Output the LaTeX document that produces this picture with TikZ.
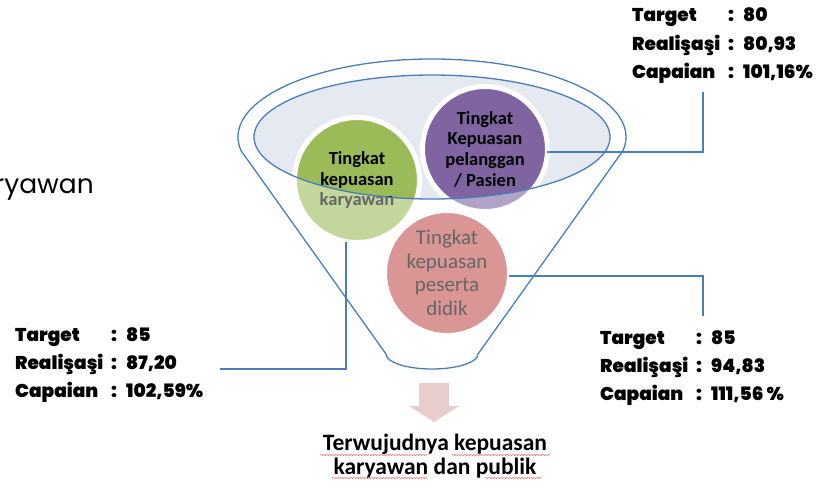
\documentclass[tikz,border=0pt]{standalone}
\usepackage{fontspec}
\setmainfont{Carlito}
\newfontfamily\statfont{Poppins Black}
\newfontfamily\geofont{Poppins}
\usetikzlibrary{decorations.pathmorphing}

\definecolor{funnelblue}{HTML}{4A7EBB}
\definecolor{bowlfill}{HTML}{E4E9F2}
\definecolor{accgreen}{HTML}{9BBB59}
\definecolor{accpurple}{HTML}{8064A2}
\definecolor{accred}{HTML}{C0504D}
\definecolor{arrowpink}{HTML}{E8CDCD}

% one row of a result block: label, colon, value
\newcommand\statrow[2]{\makebox[96pt][l]{#1}\makebox[15pt][l]{:}#2}

\begin{document}
\begin{tikzpicture}[x=1pt,y=-1pt,
  ball/.style={circle, minimum size=125pt, inner sep=0pt, outer sep=0pt,
               draw=white, line width=5pt, align=center, text=black},
  conn/.style={draw=funnelblue, line width=1.8pt},
  outline/.style={draw=funnelblue, line width=1.3pt},
  stat/.style={anchor=west, inner sep=0pt,
               font=\statfont\fontsize{18.5}{20}\selectfont},
  squiggle/.style={draw=red!55!white, line width=0.5pt, decorate,
               decoration={snake, amplitude=0.7pt, segment length=3pt}}
]
\useasboundingbox (0,0) rectangle (829,485);

% mouth of the funnel
\fill[bowlfill] (432,137) ellipse[x radius=178, y radius=62];

% the three items
\node[ball, fill=accgreen, font=\bfseries\fontsize{18.5}{20.5}\selectfont]
  (green) at (357,180) {Tingkat\\kepuasan\\karyawan};
\node[ball, fill=accpurple, font=\bfseries\fontsize{18.5}{20.7}\selectfont]
  (purple) at (485,149) {Tingkat\\Kepuasan\\pelanggan\\/ Pasien};
\node[ball, fill=accred, font=\fontsize{21}{23.5}\selectfont]
  (pink) at (447,273) {Tingkat\\kepuasan\\peserta\\didik};

% translucent body of the funnel
\fill[white, fill opacity=0.4, even odd rule]
  (240.95,150.54) arc[start angle=170, end angle=370, x radius=194, y radius=78]
  -- (478,354) arc[start angle=0, end angle=180, x radius=46, y radius=15]
  -- cycle
  (432,137) ellipse[x radius=178, y radius=62];

% funnel outline
\draw[outline]
  (240.95,150.54) arc[start angle=170, end angle=370, x radius=194, y radius=78]
  -- (478,354) arc[start angle=0, end angle=180, x radius=46, y radius=15]
  -- cycle;
\draw[outline] (432,137) ellipse[x radius=178, y radius=62];

% result blocks
\node[stat] (gl1) at (15,337) {\statrow{Target}{85}};
\node[stat] (gl2) at (15,364) {\statrow{Realişaşi}{87,20}};
\node[stat] (gl3) at (15,392) {\statrow{Capaian}{102,59\%}};

\node[stat] (pl1) at (632,17) {\statrow{Target}{80}};
\node[stat] (pl2) at (632,45) {\statrow{Realişaşi}{80,93}};
\node[stat] (pl3) at (632,73) {\statrow{Capaian}{101,16\%}};

\node[stat] (rl1) at (600,340) {\statrow{Target}{85}};
\node[stat] (rl2) at (600,367) {\statrow{Realişaşi}{94,83}};
\node[stat] (rl3) at (600,395) {\statrow{Capaian}{111,56 \%}};

% leader lines
\coordinate (gEnd) at (220,369);
\coordinate (pEnd) at (703,92);
\coordinate (rEnd) at (703,316);
\draw[conn] (green.260) |- (gEnd);
\draw[conn] (purple.-3) -| (pEnd);
\draw[conn] (pink.-3) -| (rEnd);

% outcome arrow and caption
\fill[arrowpink] (419,383) -- (449,383) -- (449,406) -- (459,406)
  -- (434,422) -- (409,406) -- (419,406) -- cycle;
\node[align=center, inner sep=0pt, font=\bfseries\fontsize{23.5}{23.5}\selectfont]
  (goal) at (435,456) {Terwujudnya kepuasan\\karyawan dan publik};
\draw[squiggle] (320,455) -- (428,455);
\draw[squiggle] (452,455) -- (550,455);
\draw[squiggle] (332,478) -- (428,478);
\draw[squiggle] (485,478) -- (541,478);

% clipped word at the left edge
\node[anchor=base east, inner sep=0pt, font=\geofont\fontsize{26.5}{30}\selectfont]
  (cut) at (94,193) {ryawan};
\end{tikzpicture}
\end{document}
